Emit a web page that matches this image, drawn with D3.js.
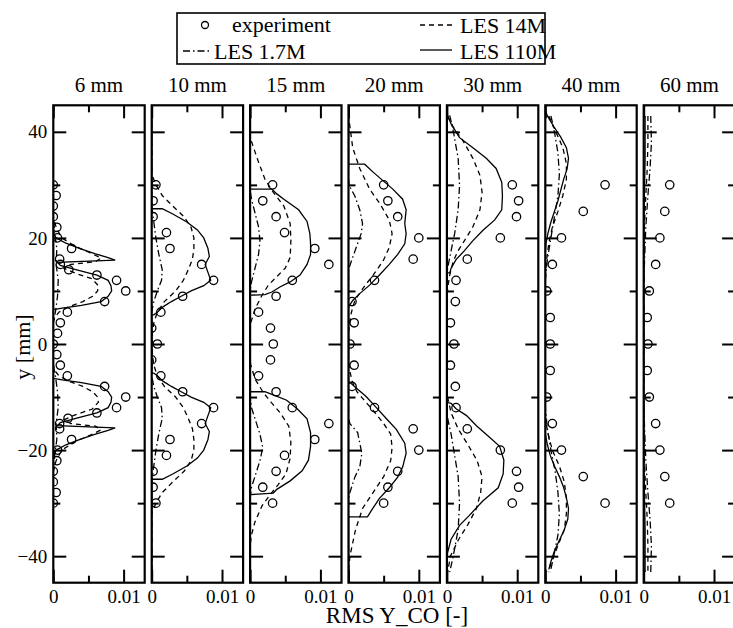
<!DOCTYPE html>
<html><head><meta charset="utf-8">
<script src="https://cdn.jsdelivr.net/npm/d3@7"></script>
<style>
body{margin:0;background:#fff}
svg{display:block}
</style>
</head><body>
<svg id="chart" width="733" height="628"></svg>
<script>
// ---------- data ----------
const panelTitles = ["6 mm","10 mm","15 mm","20 mm","30 mm","40 mm","60 mm"];
const yMajorTicks = [-40,-20,0,20,40];
const yMinorTicks = [-30,-10,10,30];
const xMajorTicks = [0,0.01];
const xMinorTicks = [0.005];
const xTickLabels = ["0","0.01"];
const legendLabels = ["experiment","LES 14M","LES 1.7M","LES 110M"];

// experiment points: [y(mm), rms]
const exp6 = [[30,0],[28,0.0004],[26,0],[24,0],[22,0.0005],[20,0.0006],[18,0.0026],[16,0.0009],[15,0.001],[14,0.0022],[13,0.0062],[12,0.009],[10,0.0103],[8,0.0073],[6,0.002],[4,0.001],[2,0.0006],[0,0],[-2,0.0005],[-4,0.001],[-6,0.002],[-8,0.0073],[-10,0.0103],[-12,0.009],[-13,0.0062],[-14,0.0021],[-15,0.0009],[-16,0.0009],[-18,0.0026],[-20,0.0006],[-22,0.0005],[-24,0],[-26,0],[-28,0.0004],[-30,0]];
const exp10 = [[30,0.0006],[27,0.0002],[24,0.0002],[21,0.0021],[18,0.0026],[15,0.0071],[12,0.0088],[9,0.0044],[6,0.0013],[3,0],[0,0.0008],[-3,0],[-6,0.0013],[-9,0.0044],[-12,0.0088],[-15,0.0071],[-18,0.0026],[-21,0.0021],[-24,0.0002],[-27,0.0002],[-30,0.0006]];
const exp15 = [[30,0.0032],[27,0.0018],[24,0.0037],[21,0.0049],[18,0.0092],[15,0.0112],[12,0.006],[9,0.0037],[6,0.0012],[3,0.0029],[0,0.0033],[-3,0.0029],[-6,0.0012],[-9,0.0037],[-12,0.006],[-15,0.0112],[-18,0.0092],[-21,0.0049],[-24,0.0037],[-27,0.0018],[-30,0.0032]];
const exp20 = [[30,0.005],[27,0.0056],[24,0.007],[20,0.01],[16,0.0092],[12,0.0037],[8,0.0005],[4,0.0008],[0,0.0002],[-4,0.0008],[-8,0.0005],[-12,0.0037],[-16,0.0092],[-20,0.01],[-24,0.007],[-27,0.0056],[-30,0.005]];
const exp30 = [[30,0.0093],[27,0.0102],[24,0.0099],[20,0.0076],[16,0.0029],[12,0.0013],[8,0.0012],[4,0.0005],[0,0.001],[-4,0.0005],[-8,0.0012],[-12,0.0013],[-16,0.0029],[-20,0.0076],[-24,0.0099],[-27,0.0102],[-30,0.0093]];
const exp40 = [[30,0.0085],[25,0.0054],[20,0.0023],[15,0.001],[10,0.0002],[5,0.0007],[0,0.0007],[-5,0.0007],[-10,0.0002],[-15,0.001],[-20,0.0023],[-25,0.0054],[-30,0.0085]];
const exp60 = [[30,0.0037],[25,0.003],[20,0.0023],[15,0.0017],[10,0.0008],[5,0.0005],[0,0.0006],[-5,0.0005],[-10,0.0008],[-15,0.0017],[-20,0.0023],[-25,0.003],[-30,0.0037]];

// LES 110M (solid): [y, rms]
const les110_6 = [[45,0],[21,0],[20,0.0004],[19,0.0018],[18,0.0038],[17,0.006],[16.3,0.0078],[15.8,0.0088],[15.4,0.0006],[14.8,0.001],[14,0.0032],[13,0.0062],[12,0.0078],[11,0.0082],[10,0.0083],[9,0.0078],[8,0.0068],[7.3,0.004],[6.8,0.0015],[6.5,0],[-6.5,0],[-6.8,0.0015],[-7.3,0.004],[-8,0.0068],[-9,0.0078],[-10,0.0083],[-11,0.0082],[-12,0.0078],[-13,0.0062],[-14,0.0032],[-14.8,0.001],[-15.4,0.0006],[-15.8,0.0088],[-16.3,0.0078],[-17,0.006],[-18,0.0038],[-19,0.0018],[-20,0.0004],[-21,0],[-45,0]];
const les110_10 = [[45,0],[25.5,0],[25.5,0.0015],[24.5,0.003],[23,0.005],[21.5,0.0065],[20,0.0074],[18,0.008],[16.5,0.0082],[15,0.0076],[13.5,0.008],[12,0.0084],[11,0.0074],[10,0.0056],[9,0.0042],[8,0.0028],[7,0.0016],[6,0.0008],[5.5,0.0003],[5.5,0],[-5.5,0],[-5.5,0.0003],[-6,0.0008],[-7,0.0016],[-8,0.0028],[-9,0.0042],[-10,0.0056],[-11,0.0074],[-12,0.0084],[-13.5,0.008],[-15,0.0076],[-16.5,0.0082],[-18,0.008],[-20,0.0074],[-21.5,0.0065],[-23,0.005],[-24.5,0.003],[-25.5,0.0015],[-25.5,0],[-45,0]];
const les110_15 = [[45,0],[29.2,0],[29.2,0.0031],[28.3,0.0038],[27.3,0.0048],[25.3,0.0069],[23.1,0.0081],[20.8,0.0085],[18.9,0.0086],[16.9,0.0086],[15,0.0081],[13,0.0071],[11.7,0.0057],[10.8,0.0043],[9.8,0.0031],[9.3,0.0021],[9.2,0],[-9,0],[-9,0.0021],[-9.6,0.0033],[-10.6,0.0052],[-12.2,0.0067],[-14.1,0.0081],[-16.7,0.0086],[-19.3,0.0086],[-21.9,0.0083],[-23.9,0.0074],[-25.8,0.0057],[-27.4,0.0038],[-28.1,0.0033],[-28.4,0],[-45,0]];
const les110_20 = [[45,0],[33.9,0],[33.9,0.0023],[32.4,0.0035],[30.8,0.0049],[29.2,0.0063],[27.3,0.0077],[25.3,0.0082],[22.7,0.008],[20.8,0.0082],[18.9,0.008],[16.9,0.007],[15,0.0058],[13,0.0044],[11.1,0.003],[9.5,0.0016],[8.2,0.0006],[7.2,0.0001],[7,0],[-7,0],[-8.3,0.0011],[-9.9,0.0025],[-11.9,0.0039],[-14.1,0.0054],[-16.1,0.0068],[-18.7,0.008],[-20.6,0.0082],[-23.2,0.0077],[-25.1,0.007],[-27.1,0.0058],[-29.1,0.0044],[-31.5,0.0032],[-32.6,0.0027],[-32.6,0],[-45,0]];
const les110_30 = [[44,0],[43,0.0001],[41.5,0.0006],[38.9,0.0018],[37,0.0037],[35,0.0056],[33.1,0.007],[30.5,0.0078],[27.9,0.0079],[25.3,0.0078],[23.4,0.0068],[21.4,0.0051],[19.5,0.0037],[17.6,0.0025],[15.9,0.0013],[14.3,0.0006],[13.4,0.0004],[13.4,0],[-11,0],[-11.2,0.0006],[-12.2,0.0013],[-13.5,0.0028],[-15.4,0.0042],[-17.4,0.0059],[-19.3,0.0075],[-21.9,0.0081],[-24.5,0.008],[-27.1,0.0073],[-29.6,0.0051],[-32.3,0.0032],[-34.2,0.0018],[-36.8,0.0006],[-39.3,0.0001],[-41,0]];
const les110_40 = [[44,0],[43,0.0003],[41,0.0012],[39,0.0022],[37,0.003],[35,0.0033],[33,0.0031],[31,0.0026],[29,0.0022],[27,0.0018],[25,0.0013],[23,0.0008],[21,0.0004],[19,0.0001],[17,0],[-17,0],[-19,0.0003],[-21,0.0007],[-23,0.0013],[-25,0.002],[-27,0.0026],[-29,0.003],[-31,0.0033],[-33,0.0032],[-35,0.0027],[-37,0.002],[-39,0.0013],[-41,0.0008],[-42.5,0.0005]];
const les110_60 = [[43,0.0002],[35,0.0002],[28,0.0001],[22,0],[-22,0],[-28,0.0001],[-35,0.0002],[-43,0.0002]];

// LES 14M (dashed)
const les14_6 = [[45,0],[24,0],[22,0.0004],[20,0.0012],[18.5,0.003],[17.2,0.0052],[16.2,0.0068],[15.5,0.006],[15,0.0025],[14.3,0.0015],[13.3,0.0032],[12.3,0.0055],[11,0.0064],[10,0.0063],[9,0.0056],[8,0.0042],[7,0.0022],[6,0.0008],[5,0.0002],[4,0],[-4,0],[-5,0.0002],[-6,0.0008],[-7,0.0022],[-8,0.0042],[-9,0.0056],[-10,0.0063],[-11,0.0064],[-12.3,0.0055],[-13.3,0.0032],[-14.3,0.0015],[-15,0.0025],[-15.5,0.006],[-16.2,0.0068],[-17.2,0.0052],[-18.5,0.003],[-20,0.0012],[-22,0.0004],[-24,0],[-45,0]];
const les14_10 = [[45,0],[32,0],[30,0.0006],[28,0.0015],[26,0.003],[24,0.0046],[22,0.0056],[20,0.006],[18,0.006],[16,0.0058],[14,0.0052],[12,0.0045],[10,0.0034],[8,0.0018],[6,0.0008],[4,0.0003],[2,0.0001],[0,0.0001],[-2,0.0001],[-4,0.0003],[-6,0.0008],[-8,0.0018],[-10,0.0034],[-12,0.0045],[-14,0.0052],[-16,0.0058],[-18,0.006],[-20,0.006],[-22,0.0056],[-24,0.0046],[-26,0.003],[-28,0.0015],[-30,0.0006],[-32,0],[-45,0]];
const les14_15 = [[45,0],[39,0],[35,0.001],[31.1,0.0021],[28.6,0.0033],[26,0.0048],[22.7,0.0057],[19.5,0.0058],[16.3,0.0057],[14.3,0.005],[12.7,0.0038],[11.1,0.0026],[9.2,0.0017],[6.6,0.0007],[4,0.0001],[3,0],[-3,0],[-4,0.0001],[-6.6,0.0007],[-9.2,0.0019],[-11,0.003],[-13,0.0043],[-15.5,0.0055],[-18.5,0.0058],[-21.5,0.0057],[-24.5,0.0051],[-26.5,0.004],[-28.5,0.0028],[-30.5,0.0017],[-33.5,0.0007],[-36,0.0002],[-38,0],[-45,0]];
const les14_20 = [[45,0],[42,0.0001],[37,0.0006],[33.1,0.0016],[29.2,0.003],[26.6,0.0044],[23.4,0.0058],[20.8,0.0062],[18.2,0.0058],[15.6,0.0049],[13,0.0035],[10.4,0.002],[8.2,0.0009],[5.9,0.0004],[3.3,0.0001],[2,0],[-3,0],[-4.5,0.0001],[-7,0.0005],[-9,0.0012],[-11,0.0025],[-13,0.0038],[-15,0.005],[-17,0.006],[-19.5,0.0062],[-22,0.006],[-25,0.005],[-28,0.0035],[-31,0.002],[-35,0.001],[-40,0.0002],[-43,0]];
const les14_30 = [[43,0.0001],[40.9,0.0009],[38.3,0.0023],[35,0.0037],[31.8,0.0047],[28.6,0.005],[25.3,0.0047],[22.1,0.0037],[19.5,0.0025],[17.6,0.0016],[15.6,0.0009],[13,0.0004],[10.4,0.0001],[9,0],[-9,0],[-10,0.0001],[-13,0.0006],[-16,0.0016],[-19,0.003],[-22,0.0043],[-25,0.005],[-28,0.0048],[-31,0.0042],[-34,0.003],[-37,0.0016],[-40,0.0005],[-43,0.0001]];
const les14_40 = [[43,0.0005],[40,0.0015],[37,0.0025],[34,0.003],[31,0.003],[28,0.0025],[25,0.0018],[22,0.001],[19,0.0005],[16,0.0002],[13,0],[-14,0],[-17,0.0004],[-20,0.001],[-23,0.002],[-26,0.0027],[-29,0.003],[-32,0.003],[-35,0.0027],[-38,0.0018],[-41,0.0009],[-43,0.0004]];
const les14_60 = [[43,0.0006],[38,0.0006],[33,0.0005],[28,0.0003],[22,0.0001],[15,0],[-15,0],[-22,0.0001],[-28,0.0003],[-33,0.0005],[-38,0.0006],[-43,0.0006]];

// LES 1.7M (dash-dot)
const les17_6 = [[45,0],[24,0],[21,0.0002],[18,0.0005],[15,0.0004],[12,0.0007],[9,0.0006],[6,0.0003],[4,0],[-4,0],[-6,0.0003],[-9,0.0006],[-12,0.0007],[-15,0.0004],[-18,0.0005],[-21,0.0002],[-24,0],[-45,0]];
const les17_10 = [[45,0],[26,0],[23,0.0003],[20,0.0006],[17,0.001],[14,0.0015],[12,0.0014],[10,0.0008],[8,0.0003],[6,0],[-6,0],[-8,0.0003],[-10,0.0008],[-12,0.0014],[-14,0.0015],[-17,0.001],[-20,0.0006],[-23,0.0003],[-26,0],[-45,0]];
const les17_15 = [[45,0],[29,0],[27.3,0.0002],[24.7,0.0007],[22.1,0.0012],[19.5,0.0014],[16.9,0.0012],[14.3,0.0007],[11.7,0.0002],[10,0],[-10,0],[-12,0.0002],[-14.5,0.0008],[-17,0.0014],[-19.5,0.0018],[-22,0.0014],[-24.5,0.0008],[-27,0.0002],[-29,0],[-45,0]];
const les17_20 = [[45,0],[31,0],[29.9,0.0001],[27.9,0.0009],[25.3,0.0016],[22.7,0.002],[20.8,0.0018],[18.2,0.0011],[15.6,0.0004],[14,0],[-14,0],[-15,0.0002],[-16.7,0.0013],[-20.6,0.0019],[-23.2,0.0016],[-25.1,0.0009],[-28.4,0.0001],[-30,0],[-45,0]];
const les17_30 = [[43.1,0.0004],[40.2,0.0009],[35,0.0016],[29.9,0.0018],[25.3,0.0016],[20.8,0.0011],[17.6,0.0006],[14.3,0.0001],[13,0],[-13,0],[-14,0.0001],[-17,0.0006],[-21,0.0011],[-25,0.0016],[-30,0.0018],[-35,0.0016],[-40,0.0009],[-43,0.0004]];
const les17_40 = [[43,0.0008],[40,0.0013],[36,0.0018],[32,0.002],[28,0.0018],[24,0.0013],[20,0.0008],[16,0.0003],[12,0],[-12,0],[-16,0.0003],[-20,0.0008],[-24,0.0014],[-28,0.0018],[-32,0.002],[-36,0.0018],[-40,0.0012],[-43,0.0007]];
const les17_60 = [[43,0.001],[38,0.0011],[33,0.0009],[28,0.0006],[22,0.0003],[15,0.0001],[10,0],[-10,0],[-15,0.0001],[-22,0.0003],[-28,0.0006],[-33,0.0009],[-38,0.0011],[-43,0.001]];

const expSets = [exp6,exp10,exp15,exp20,exp30,exp40,exp60];
const les110Sets = [les110_6,les110_10,les110_15,les110_20,les110_30,les110_40,les110_60];
const les14Sets = [les14_6,les14_10,les14_15,les14_20,les14_30,les14_40,les14_60];
const les17Sets = [les17_6,les17_10,les17_15,les17_20,les17_30,les17_40,les17_60];

// ---------- layout ----------
const FONT = '"Liberation Serif"';
const svg = d3.select("#chart");
const left0 = 53.3, step = 98.4, pw = 91.4, plotTop = 105.3, plotBottom = 582.7;
const x = d3.scaleLinear().domain([0,0.013]).range([0,pw]);
const y = d3.scaleLinear().domain([-45,45]).range([plotBottom,plotTop]);
const styles = { solid: null, dashed: "5,4", dashdot: "7,3,1.5,3" };
const line = d3.line().x(d=>x(d[1])).y(d=>y(d[0]));
const txt = (sel,size) => sel.style("font-family",FONT).style("font-size",size+"px").style("fill","#000");

svg.append("defs").append("clipPath").attr("id","pclip")
  .append("rect").attr("x",0).attr("y",plotTop).attr("width",pw).attr("height",plotBottom-plotTop);

const tickStyle = sel => {
  sel.attr("font-family",null).attr("font-size",null);
  sel.select(".domain").remove();
  sel.selectAll("line").attr("stroke","#000").attr("stroke-width",2);
  txt(sel.selectAll("text"),19);
};

panelTitles.forEach((title,i)=>{
  const g = svg.append("g").attr("transform",`translate(${left0+i*step},0)`);
  g.append("g").call(d3.axisLeft(y).tickValues(yMajorTicks).tickSize(-13).tickPadding(6)
      .tickFormat(i===0? d3.format("d") : ()=> "")).call(tickStyle);
  g.append("g").call(d3.axisLeft(y).tickValues(yMinorTicks).tickSize(-7).tickFormat("")).call(tickStyle);
  g.append("g").attr("transform",`translate(${pw},0)`).call(d3.axisRight(y).tickValues(yMajorTicks).tickSize(-13).tickFormat("")).call(tickStyle);
  g.append("g").attr("transform",`translate(${pw},0)`).call(d3.axisRight(y).tickValues(yMinorTicks).tickSize(-7).tickFormat("")).call(tickStyle);
  g.append("g").attr("transform",`translate(0,${plotBottom})`).call(d3.axisBottom(x).tickValues(xMajorTicks).tickSize(-13).tickPadding(7)
      .tickFormat((d,k)=>xTickLabels[k])).call(tickStyle);
  g.append("g").attr("transform",`translate(0,${plotBottom})`).call(d3.axisBottom(x).tickValues(xMinorTicks).tickSize(-7).tickFormat("")).call(tickStyle);
  g.append("g").attr("transform",`translate(0,${plotTop})`).call(d3.axisTop(x).tickValues(xMajorTicks).tickSize(-13).tickFormat("")).call(tickStyle);
  g.append("g").attr("transform",`translate(0,${plotTop})`).call(d3.axisTop(x).tickValues(xMinorTicks).tickSize(-7).tickFormat("")).call(tickStyle);

  const plot = g.append("g").attr("clip-path","url(#pclip)");
  [[les17Sets[i],styles.dashdot],[les14Sets[i],styles.dashed],[les110Sets[i],styles.solid]].forEach(([data,dash])=>{
    plot.append("path").datum(data).attr("d",line).attr("fill","none").attr("stroke","#000")
      .attr("stroke-width",1.3).attr("stroke-dasharray",dash);
  });
  plot.selectAll("circle").data(expSets[i]).join("circle")
    .attr("cx",d=>x(d[1])).attr("cy",d=>y(d[0])).attr("r",4.2)
    .attr("fill","none").attr("stroke","#000").attr("stroke-width",1.3);

  g.append("rect").attr("x",0).attr("y",plotTop).attr("width",pw).attr("height",plotBottom-plotTop)
    .attr("fill","none").attr("stroke","#000").attr("stroke-width",2.2);
  g.append("text").attr("x",pw/2).attr("y",92).attr("text-anchor","middle").call(txt,21).text(title);
});

svg.append("text").attr("x",397).attr("y",623).attr("text-anchor","middle").call(txt,23).text("RMS Y_CO [-]");
svg.append("text").attr("transform","translate(30,347) rotate(-90)").attr("text-anchor","middle").call(txt,22).text("y [mm]");

const lg = svg.append("g");
lg.append("rect").attr("x",177).attr("y",13).attr("width",368).attr("height",51).attr("fill","#fff").attr("stroke","#000").attr("stroke-width",1.6);
lg.append("circle").attr("cx",205).attr("cy",25).attr("r",3.5).attr("fill","none").attr("stroke","#000").attr("stroke-width",1.3);
lg.append("text").attr("x",232).attr("y",32).call(txt,22).text(legendLabels[0]);
lg.append("line").attr("x1",420).attr("x2",452).attr("y1",25).attr("y2",25).attr("stroke","#000").attr("stroke-width",1.3).attr("stroke-dasharray",styles.dashed);
lg.append("text").attr("x",460).attr("y",32.5).call(txt,22).text(legendLabels[1]);
lg.append("line").attr("x1",183).attr("x2",210).attr("y1",51).attr("y2",51).attr("stroke","#000").attr("stroke-width",1.3).attr("stroke-dasharray",styles.dashdot);
lg.append("text").attr("x",214).attr("y",58.5).call(txt,22).text(legendLabels[2]);
lg.append("line").attr("x1",420).attr("x2",452).attr("y1",50).attr("y2",50).attr("stroke","#000").attr("stroke-width",1.3);
lg.append("text").attr("x",460).attr("y",58.5).call(txt,22).text(legendLabels[3]);
</script>
</body></html>
